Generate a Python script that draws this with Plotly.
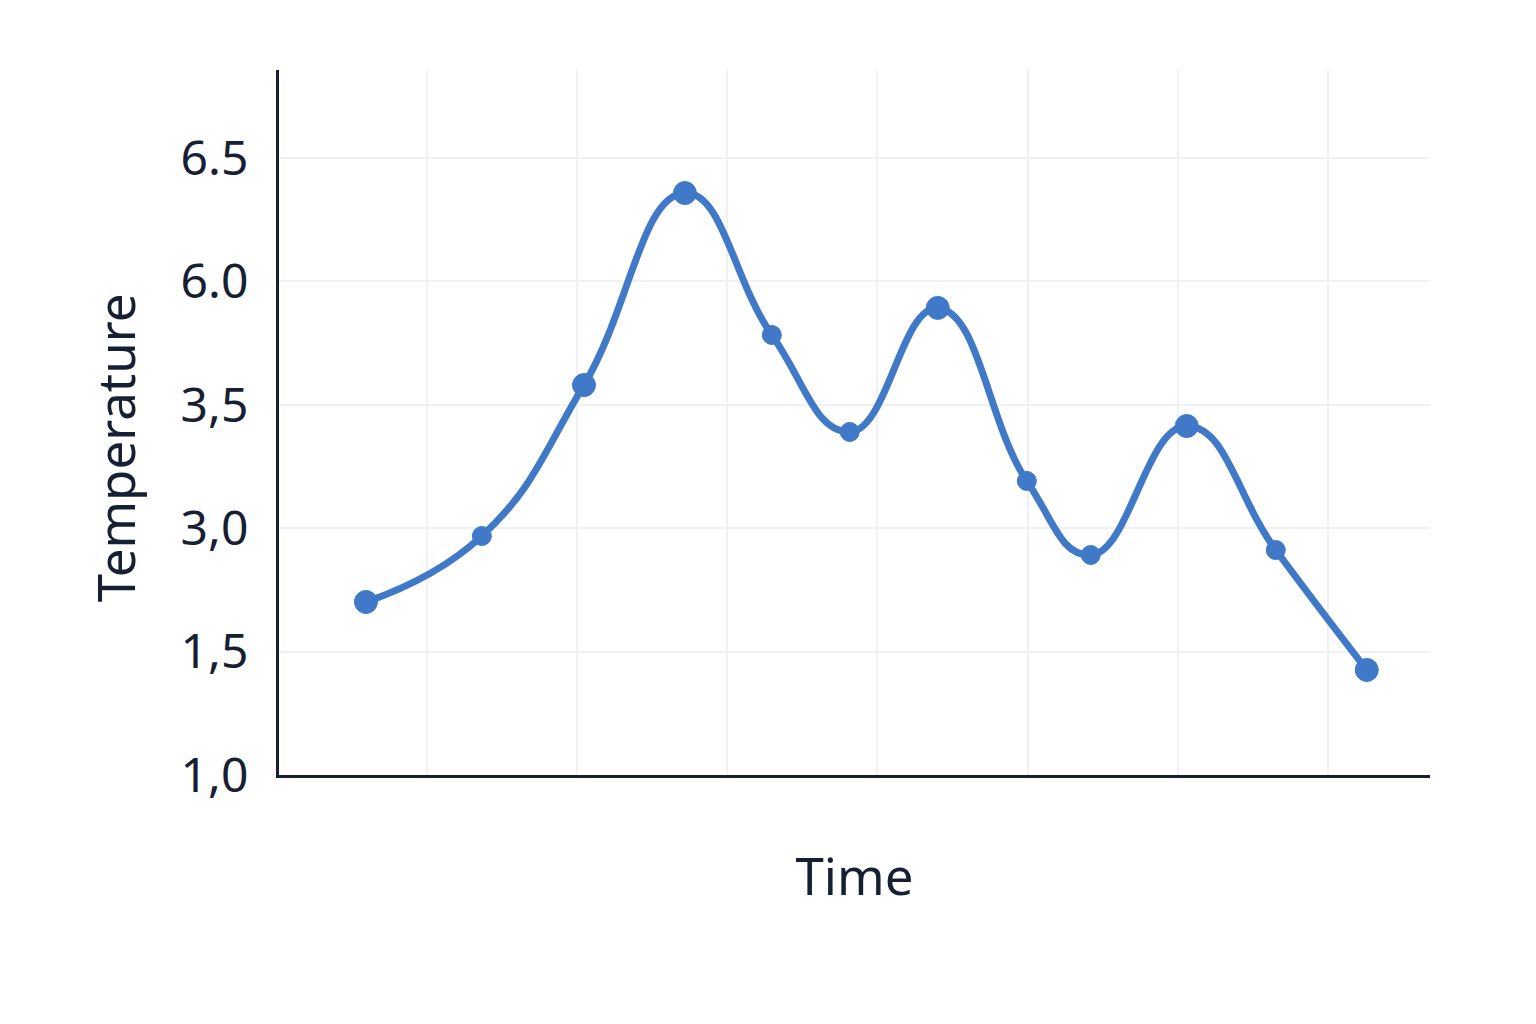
import plotly.graph_objects as go

# Data (in axis units)
time_x = [0.594, 1.366, 2.046, 2.718, 3.297, 3.816, 4.402, 4.995, 5.421, 6.060, 6.653, 7.259]
temp_y = [1.402, 1.937, 3.160, 4.716, 3.566, 2.780, 3.785, 2.383, 1.783, 2.828, 1.823, 0.851]
marker_sizes = [23, 19, 23, 23, 19, 19, 23, 19, 19, 23, 19, 23]

y_tick_vals = [0, 1, 2, 3, 4, 5]
y_tick_text = ["1,0", "1,5", "3,0", "3,5", "6.0", "6.5"]
x_tick_vals = [1, 2, 3, 4, 5, 6, 7]

line_color = "#4179c9"
text_color = "#172033"
grid_color = "#f0f1f6"

fig = go.Figure()
fig.add_trace(go.Scatter(
    x=time_x, y=temp_y,
    mode="lines+markers",
    line=dict(color=line_color, width=7, shape="spline", smoothing=1.3),
    marker=dict(color=line_color, size=marker_sizes, opacity=1,
                line=dict(width=1, color=line_color)),
    opacity=1,
    showlegend=False,
    hoverinfo="skip",
))

fig.update_layout(
    width=1536, height=1024,
    margin=dict(l=271, r=114, t=62, b=257, autoexpand=False),
    paper_bgcolor="white", plot_bgcolor="white",
    font=dict(family="Noto Sans, Open Sans, sans-serif", color=text_color, size=48),
    xaxis=dict(
        range=[0.015, 7.68],
        tickvals=x_tick_vals, showticklabels=False,
        showgrid=True, gridcolor=grid_color, gridwidth=2,
        showline=True, linecolor=text_color, linewidth=3,
        zeroline=False, ticks="",
        title=dict(text="Time", font=dict(size=51), standoff=83),
    ),
    yaxis=dict(
        range=[0, 5.713],
        tickvals=y_tick_vals, ticktext=y_tick_text,
        showgrid=True, gridcolor=grid_color, gridwidth=2,
        showline=True, linecolor=text_color, linewidth=3,
        zeroline=False, ticks="",
        ticklabelstandoff=18,
        tickfont=dict(size=48),
    ),
    annotations=[dict(
        text="Temperature", textangle=-90,
        xref="paper", yref="paper", x=-0.1425, y=0.465,
        xanchor="center", yanchor="middle", showarrow=False,
        font=dict(size=51, color=text_color),
    )],
)

fig.write_html("out.html")
